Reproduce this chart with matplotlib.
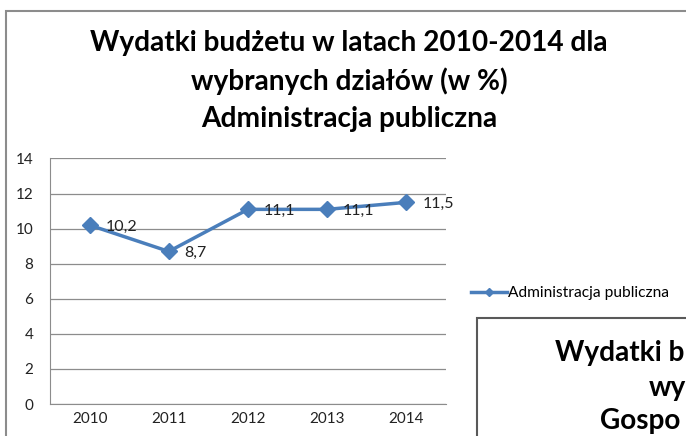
import matplotlib.pyplot as plt
from matplotlib.patches import Rectangle

years = ["2010", "2011", "2012", "2013", "2014"]
values = [10.2, 8.7, 11.1, 11.1, 11.5]
labels = ["10,2", "8,7", "11,1", "11,1", "11,5"]

plt.rcParams["font.family"] = ["Lato", "DejaVu Sans"]

fig = plt.figure(figsize=(6.86, 4.36), dpi=100)
W, H = 686, 436

# outer chart border
fig.add_artist(Rectangle((6 / W, -0.1), 1.2, (436 - 11) / H + 0.1,
                         transform=fig.transFigure, fill=False,
                         edgecolor="#8c8c8c", linewidth=1.5))

fig.text(349 / W, 1 - 81 / H,
         "Wydatki budżetu w latach 2010-2014 dla\nwybranych działów (w %)\nAdministracja publiczna",
         ha="center", va="center", fontsize=20.2, fontweight="bold",
         linespacing=1.5, color="black")

ax = fig.add_axes([50 / W, 32 / H, 396 / W, 245.5 / H])
x = range(len(years))
ax.plot(x, values, color="#4a7ebb", linewidth=2.5, marker="D", markersize=8,
        label="Administracja publiczna")
for i, (v, t) in enumerate(zip(values, labels)):
    ax.text(i + 0.2, v - 0.1, t, ha="left", va="center", fontsize=11.5, color="#222222")

ax.set_xlim(-0.5, 4.5)
ax.set_ylim(0, 14)
ax.set_yticks(range(0, 15, 2))
ax.set_xticks(list(x))
ax.set_xticklabels(years)
ax.tick_params(length=0, labelsize=11, colors="#222222", pad=6)
ax.tick_params(axis="y", pad=12)
ax.grid(axis="y", color="#8c8c8c", linewidth=0.9)
ax.set_axisbelow(True)
for s in ["top", "right"]:
    ax.spines[s].set_visible(False)
for s in ["left", "bottom"]:
    ax.spines[s].set_color("#8c8c8c")

fig.legend(*ax.get_legend_handles_labels(), loc="center left",
           bbox_to_anchor=(471 / W, 1 - 293 / H), frameon=False,
           fontsize=11.2, handlelength=2.3, handletextpad=0.1,
           markerscale=0.55, borderaxespad=0, borderpad=0)

# neighbouring chart peeking in at the bottom right (only its visible part)
fig.add_artist(Rectangle((477 / W, -0.1), 1.0, (436 - 318) / H + 0.1,
                         transform=fig.transFigure, fill=False,
                         edgecolor="#595959", linewidth=1.5))
fig.text(555 / W, 1 - 353 / H, "Wydatki b", ha="left", va="center",
         fontsize=20.2, fontweight="bold")
fig.text(649 / W, 1 - 388 / H, "wy", ha="left", va="center",
         fontsize=20.2, fontweight="bold")
fig.text(600 / W, 1 - 421 / H, "Gospo", ha="left", va="center",
         fontsize=20.2, fontweight="bold")

fig.savefig("out.png", dpi=100)
